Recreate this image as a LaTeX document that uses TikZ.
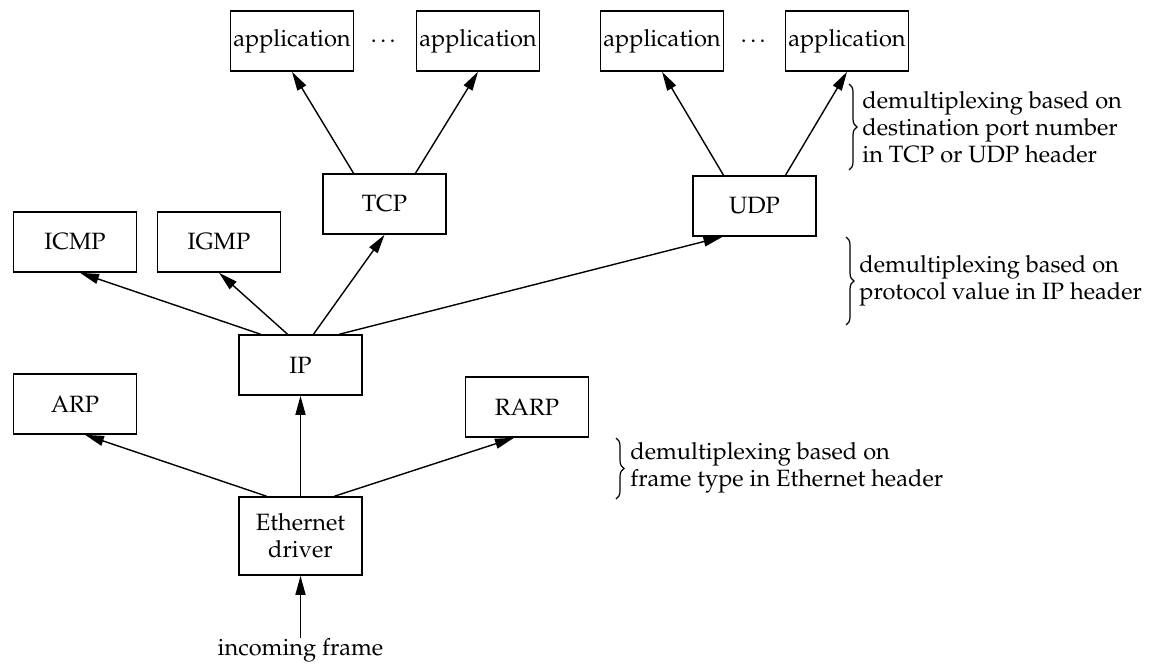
\documentclass[tikz,border=0pt]{standalone}
\usepackage[T1]{fontenc}
\usepackage{mathpazo}
\usetikzlibrary{arrows.meta,calc,decorations.pathreplacing}
\tikzset{layer/.style={draw, line width=0.8pt, minimum width=61.5pt, minimum height=30pt, inner sep=0pt, align=center},
 up/.style={line width=0.7pt, -{Triangle[length=9.5pt,width=5pt]}},
 curly/.style={decorate, decoration={brace, amplitude=4pt}, line width=0.6pt},
 note/.style={anchor=west, align=left, inner sep=0pt},
}

\begin{document}
\begin{tikzpicture}[x=0.5pt, y=-0.5pt, font=\fontsize{11.8}{13.5}\selectfont]
        \useasboundingbox (0,0) rectangle (1159,664);
        \foreach \n/\x in {a1/292, a2/478, a3/662, a4/847} {
            \node[layer] (\n) at (\x, 41) {application};
        }
        \node (dots1) at (385, 41) {\dots};
        \node (dots2) at (755, 41) {\dots};

        \node[layer] (tcp) at (384.5, 204) {TCP};
        \node[layer] (udp) at (754.5, 206) {UDP};
        \node[layer] (icmp) at (75, 242) {ICMP};
        \node[layer] (igmp) at (219, 242) {IGMP};
        \node[layer] (ip) at (300.5, 365) {IP};
        \node[layer] (arp) at (75, 404) {ARP};
        \node[layer] (rarp) at (527, 407) {RARP};
        \node[layer, minimum height=39pt] (eth) at (300.5, 536) {Ethernet\\driver};
        \node[inner sep=0pt] (frame) at (300.5, 650) {incoming frame};

        \draw[up] (frame.north) -- (eth.south);
        \draw[up] ($(eth.north)+(-34,0)$) -- ($(arp.south)+(10,0)$);
        \draw[up] (eth.north) -- (ip.south);
        \draw[up] ($(eth.north)+(34,0)$) -- ($(rarp.south)+(-13,0)$);

        \draw[up] ($(ip.north)+(-40,0)$) -- ($(icmp.south)+(5,0)$);
        \draw[up] ($(ip.north)+(-13,0)$) -- (igmp.south);
        \draw[up] ($(ip.north)+(13,0)$) -- (tcp.south);
        \draw[up] ($(ip.north)+(39,0)$) -- ($(udp.south)+(-32,0)$);

        \draw[up] ($(tcp.north)+(-31,0)$) -- (a1.south);
        \draw[up] ($(tcp.north)+(31,0)$) -- (a2.south);
        \draw[up] ($(udp.north)+(-31,0)$) -- (a3.south);
        \draw[up] ($(udp.north)+(31,0)$) -- (a4.south);

        \draw[curly] (849, 84) -- (849, 170);
        \node[note] (note1) at (862, 127) {demultiplexing based on\\destination port number\\in TCP or UDP header};
        \draw[curly] (846, 237) -- (846, 325);
        \node[note] (note2) at (859, 281) {demultiplexing based on\\protocol value in IP header};
        \draw[curly] (616, 438) -- (616, 499);
        \node[note] (note3) at (630, 468) {demultiplexing based on\\frame type in Ethernet header};
    \end{tikzpicture}
\end{document}
